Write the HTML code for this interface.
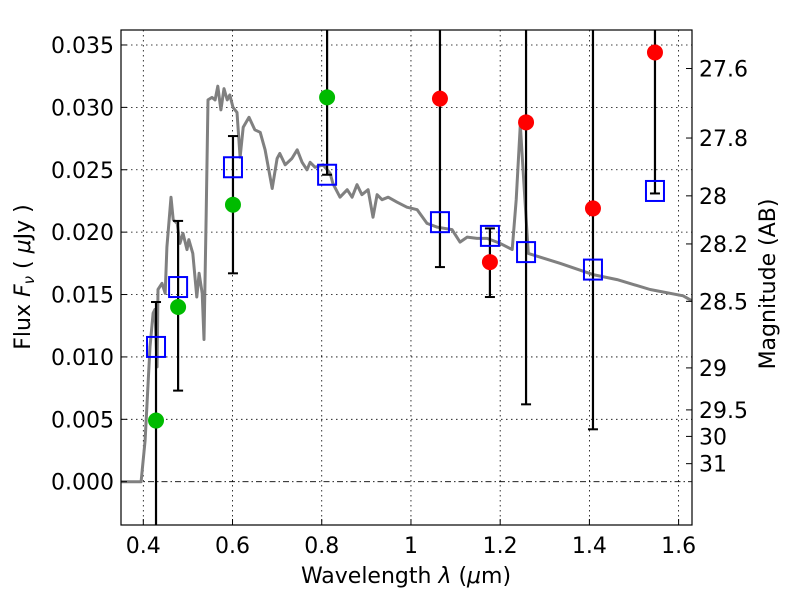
<!DOCTYPE html>
<html><head><meta charset="utf-8"><style>
body{margin:0;background:#fff}
svg{display:block;font-family:"DejaVu Sans","Liberation Sans",sans-serif}
</style></head><body>
<svg id="chart" width="800" height="600">
<defs><clipPath id="plotclip"><rect x="121" y="30" width="571" height="495"/></clipPath></defs>
<rect x="0" y="0" width="800" height="600" fill="#fff"/>
<g id="grid"></g>
<g id="marks" clip-path="url(#plotclip)"></g>
<rect x="121" y="30" width="571" height="495" fill="none" stroke="#000" stroke-width="1.2"/>
<g id="axes"></g>
<text x="406" y="583" font-size="22" text-anchor="middle">Wavelength  <tspan font-style="italic">λ</tspan> (<tspan font-style="italic">μ</tspan>m)</text>
<text transform="translate(30,277) rotate(-90)" font-size="22" text-anchor="middle">Flux  <tspan font-style="italic">F<tspan font-size="15" dy="4">ν</tspan></tspan><tspan dy="-4">  ( </tspan><tspan font-style="italic">μ</tspan>Jy )</text>
<text transform="translate(775,284) rotate(-90)" font-size="22" text-anchor="middle">Magnitude (AB)</text>
</svg>
<script>
const xTicks=[0.4,0.6,0.8,1.0,1.2,1.4,1.6];
const xTickLabels=["0.4","0.6","0.8","1","1.2","1.4","1.6"];
const yTicks=[0,0.005,0.01,0.015,0.02,0.025,0.03,0.035];
const yTickLabels=["0.000","0.005","0.010","0.015","0.020","0.025","0.030","0.035"];
const magTicks=[27.6,27.8,28,28.2,28.5,29,29.5,30,31];
const magTickLabels=["27.6","27.8","28","28.2","28.5","29","29.5","30","31"];
const sedLam=[0.35,0.395,0.404,0.415,0.422,0.426,0.431,0.433,0.442,0.449,0.453,0.462,0.467,0.476,0.482,0.489,0.498,0.502,0.511,0.520,0.525,0.532,0.536,0.541,0.545,0.554,0.561,0.567,0.574,0.581,0.588,0.594,0.601,0.610,0.617,0.624,0.637,0.650,0.662,0.673,0.689,0.700,0.706,0.718,0.733,0.745,0.756,0.767,0.774,0.785,0.803,0.819,0.825,0.841,0.857,0.868,0.879,0.890,0.904,0.915,0.924,0.935,0.949,0.969,0.991,1.014,1.036,1.059,1.092,1.110,1.126,1.148,1.171,1.200,1.227,1.236,1.245,1.251,1.263,1.289,1.334,1.408,1.462,1.536,1.610,1.630];
const sedFlux=[0,0,0.0033,0.0108,0.0135,0.0138,0.0092,0.0154,0.0159,0.0151,0.0188,0.0228,0.0210,0.0207,0.0191,0.0199,0.0186,0.0194,0.0183,0.0148,0.0167,0.0151,0.0114,0.0215,0.0306,0.0308,0.0306,0.0317,0.0298,0.0315,0.0306,0.0310,0.0300,0.0296,0.0260,0.0284,0.0292,0.0282,0.0280,0.0266,0.0235,0.0259,0.0263,0.0254,0.0259,0.0266,0.0256,0.0250,0.0256,0.0252,0.0254,0.0247,0.0239,0.0228,0.0234,0.0228,0.0238,0.0230,0.0234,0.0212,0.0230,0.0226,0.0228,0.0224,0.0220,0.0218,0.0207,0.0204,0.0202,0.0192,0.0196,0.0195,0.0195,0.0191,0.0186,0.0226,0.0286,0.0252,0.0183,0.0180,0.0175,0.0166,0.0162,0.0154,0.0149,0.0145];
const greenLam=[0.4285,0.478,0.601,0.812];
const greenFlux=[0.0049,0.0140,0.0222,0.0308];
const redLam=[1.065,1.177,1.258,1.408,1.547];
const redFlux=[0.0307,0.0176,0.0288,0.0219,0.0344];
const modelLam=[0.4285,0.478,0.601,0.812,1.065,1.177,1.258,1.408,1.547];
const modelFlux=[0.0108,0.0156,0.0252,0.0246,0.0208,0.0197,0.0184,0.0170,0.0233];
const errLo=[-0.005,0.0073,0.0167,0.0246,0.0172,0.0148,0.0062,0.0042,0.0231];
const errHi=[0.0144,0.0209,0.0277,0.04,0.04,0.0203,0.04,0.04,0.04];

const X0=121,X1=692,Y0=30,Y1=525,xmin=0.35,xmax=1.63,ymin=-0.00347,ymax=0.0362;
const sx=v=>X0+(v-xmin)/(xmax-xmin)*(X1-X0);
const sy=v=>Y1-(v-ymin)/(ymax-ymin)*(Y1-Y0);
const magToFlux=m=>Math.pow(10,(23.9-m)/2.5);
const NS="http://www.w3.org/2000/svg";
function mk(tag,attrs,parent){const e=document.createElementNS(NS,tag);for(const k in attrs)e.setAttribute(k,attrs[k]);parent.appendChild(e);return e;}
const grid=document.getElementById('grid'),marks=document.getElementById('marks'),axes=document.getElementById('axes');

xTicks.forEach((t,i)=>{
  const g=mk('line',{x1:sx(t),x2:sx(t),y1:Y0,y2:Y1,stroke:'#000','stroke-width':0.8,'stroke-dasharray':'1.5,3.5'},grid);
  
  
  const tk=mk('line',{x1:sx(t),x2:sx(t),y1:Y1,y2:Y1-6,stroke:'#000','stroke-width':1},axes);
  
  
  const tx=mk('text',{x:sx(t),y:Y1+28,'font-size':22,'text-anchor':'middle'},axes);
  tx.textContent=xTickLabels[i];
  
  
});
yTicks.forEach((t,i)=>{
  const g=mk('line',{x1:X0,x2:X1,y1:sy(t),y2:sy(t),stroke:'#000','stroke-width':0.8,'stroke-dasharray':t===0?'6,3,1.5,3':'1.5,3.5'},grid);
  
  
  const tk=mk('line',{x1:X0,x2:X0+6,y1:sy(t),y2:sy(t),stroke:'#000','stroke-width':1},axes);
  
  
  const tx=mk('text',{x:X0-7,y:sy(t)+8,'font-size':22,'text-anchor':'end'},axes);
  tx.textContent=yTickLabels[i];
  
  
});
magTicks.forEach((m,i)=>{
  const y=sy(magToFlux(m));
  const tk=mk('line',{x1:X1,x2:X1-6,y1:y,y2:y,stroke:'#000','stroke-width':1},axes);
  
  
  const tx=mk('text',{x:X1+7,y:y+8,'font-size':22,'text-anchor':'start'},axes);
  tx.textContent=magTickLabels[i];
  
  
});

const pts=sedLam.map((l,i)=>sx(l).toFixed(1)+','+sy(sedFlux[i]).toFixed(1)).join(' ');
const sed=mk('polyline',{points:pts,fill:'none',stroke:'#808080','stroke-width':3,'stroke-linejoin':'round'},marks);



modelLam.forEach((l,i)=>{
  const x=sx(l),yl=sy(errLo[i]),yh=sy(errHi[i]);
  const e=mk('line',{x1:x,x2:x,y1:yl,y2:yh,stroke:'#000','stroke-width':2.2},marks);
  
  
  [yl,yh].forEach(y=>{
    const c=mk('line',{x1:x-5,x2:x+5,y1:y,y2:y,stroke:'#000','stroke-width':2},marks);
    
    
  });
});
greenLam.forEach((l,i)=>{
  const c=mk('circle',{cx:sx(l),cy:sy(greenFlux[i]),r:8,fill:'#00bb00'},marks);
  
  
});
redLam.forEach((l,i)=>{
  const c=mk('circle',{cx:sx(l),cy:sy(redFlux[i]),r:8,fill:'#ff0000'},marks);
  
  
});
modelLam.forEach((l,i)=>{
  const r=mk('rect',{x:sx(l)-9,y:sy(modelFlux[i])-10,width:18,height:20,fill:'none',stroke:'#0000ff','stroke-width':2},marks);
  
  
});
</script>
</body></html>
